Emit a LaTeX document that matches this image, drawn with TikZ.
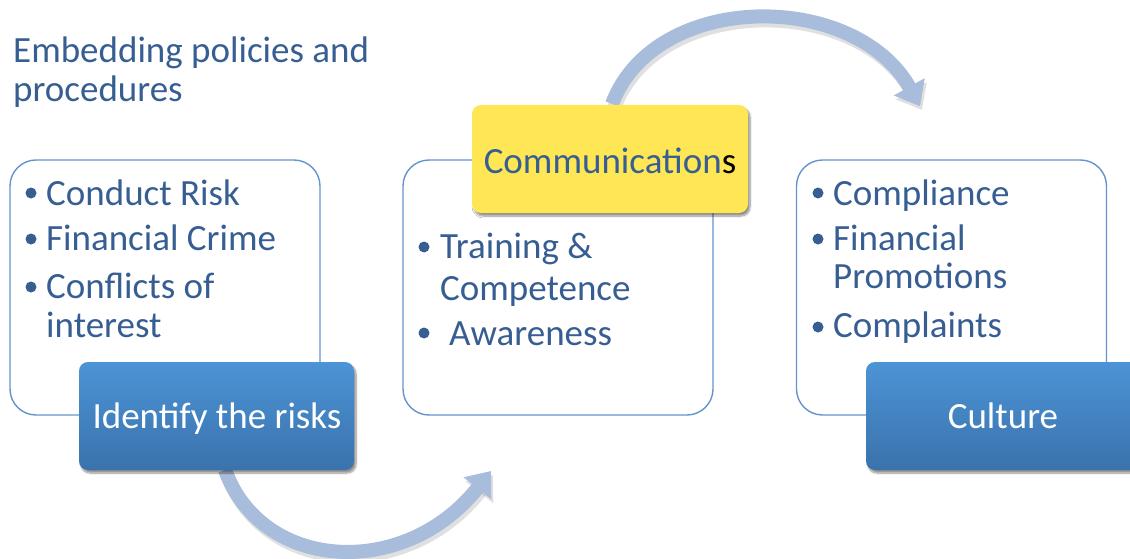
\documentclass[tikz,border=0pt]{standalone}
\usepackage{fontspec}
\setmainfont{Carlito}
\usetikzlibrary{arrows.meta,shadows,shadows.blur}
\definecolor{tblue}{RGB}{55,94,146}
\definecolor{bordblue}{RGB}{100,148,204}
\definecolor{btop}{RGB}{76,148,214}
\definecolor{bbot}{RGB}{58,114,172}
\definecolor{ylw}{RGB}{255,230,84}
\definecolor{arr}{RGB}{168,188,220}
\tikzset{
  whitebox/.style={draw=bordblue, line width=1.4pt, fill=white, rounded corners=26pt, inner sep=0pt, minimum width=310pt, minimum height=255pt},
  bluebox/.style={top color=btop, bottom color=bbot, draw=none, rounded corners=9pt, inner sep=0pt, minimum width=275pt, minimum height=108pt,
     blur shadow={shadow xshift=2pt, shadow yshift=-3pt, shadow blur steps=8, shadow opacity=45}},
  ylwbox/.style={fill=ylw, draw=none, rounded corners=9pt, inner sep=0pt, minimum width=276pt, minimum height=108pt,
     blur shadow={shadow xshift=2pt, shadow yshift=-3pt, shadow blur steps=8, shadow opacity=45}},
  txt/.style={font=\fontsize{37}{44}\selectfont, text=tblue, inner sep=0pt, anchor=base west},
  bul/.style={circle, fill=tblue, draw=none, inner sep=0pt, minimum size=11pt},
  ctxt/.style={font=\fontsize{37}{44}\selectfont, text=tblue, inner sep=0pt, anchor=base},
  wtxt/.style={font=\fontsize{37}{44}\selectfont, text=white, inner sep=0pt, anchor=base},
  curvearrow/.style={draw=arr, line width=14pt, -{Triangle[width=34pt,length=22pt]}},
  arrshadow/.style={draw=black, opacity=0.12, line width=14pt, -{Triangle[width=34pt,length=22pt]}}
}
\begin{document}
\begin{tikzpicture}[x=1pt,y=-1pt]
\useasboundingbox (0,0) rectangle (1130,559);

% title
\node[txt] (t1) at (13,63) {Embedding policies and};
\node[txt] (t2) at (13,102) {procedures};

% arrows (behind boxes)
\coordinate (a1s) at (225,470);
\coordinate (a1e) at (491,471);
\coordinate (a2s) at (612,104);
\coordinate (a2e) at (920,106);
\draw[arrshadow, transform canvas={xshift=2pt, yshift=-4pt}] (a1s) .. controls (262,572) and (405,580) .. (a1e);
\draw[curvearrow] (a1s) .. controls (262,572) and (405,580) .. (a1e);
\draw[arrshadow, transform canvas={xshift=2pt, yshift=-4pt}] (a2s) .. controls (655,-10) and (855,-10) .. (a2e);
\draw[curvearrow] (a2s) .. controls (655,-10) and (855,-10) .. (a2e);

% white boxes
\node[whitebox] (w1) at (165,287.5) {};
\node[whitebox] (w2) at (558,287.5) {};
\node[whitebox] (w3) at (951.5,287.5) {};

% left list
\node[bul] (l1b) at (31,193) {};
\node[txt] (l1) at (46,205) {Conduct Risk};
\node[bul] (l2b) at (31,239) {};
\node[txt] (l2) at (46,250) {Financial Crime};
\node[bul] (l3b) at (31,287) {};
\node[txt] (l3) at (46,298) {Conflicts of};
\node[txt] (l4) at (46,337) {interest};

% middle list
\node[bul] (m1b) at (424,247) {};
\node[txt] (m1) at (440,258) {Training \&};
\node[txt] (m2) at (440,300) {Competence};
\node[bul] (m3b) at (424,333) {};
\node[txt] (m3) at (449,345) {Awareness};

% right list
\node[bul] (r1b) at (818,193) {};
\node[txt] (r1) at (833,205) {Compliance};
\node[bul] (r2b) at (818,239) {};
\node[txt] (r2) at (833,250) {Financial};
\node[txt] (r3) at (833,288) {Promotions};
\node[bul] (r4b) at (818,327) {};
\node[txt] (r4) at (833,337) {Complaints};

% coloured boxes
\node[bluebox] (b1) at (216.5,416) {};
\node[wtxt] (b1t) at (217,428) {Identify the risks};
\node[ylwbox] (y1) at (610,159) {};
\node[ctxt] (y1t) at (610,173) {Communication\textcolor{black}{s}};
\node[bluebox] (b3) at (1003.5,416) {};
\node[wtxt] (b3t) at (1003,428) {Culture};
\end{tikzpicture}
\end{document}
